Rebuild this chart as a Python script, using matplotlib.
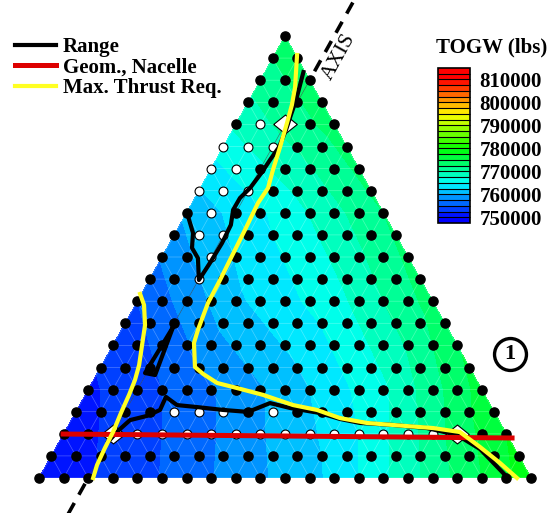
import numpy as np
import matplotlib.pyplot as plt
import matplotlib.tri as mtri
from matplotlib.colors import LinearSegmentedColormap, Normalize
from matplotlib.lines import Line2D

plt.rcParams['font.family'] = ['Liberation Serif', 'DejaVu Serif']
plt.rcParams['font.weight'] = 'bold'

N = 20  # divisions of the design triangle per edge

togw_rows = [
    [750500, 754000, 758500, 763000, 771000, 779000],
    [752000, 756000, 761000, 767000, 776000],
    [755000, 762000, 766500, 773500],
    [760500, 766000, 772500],
    [768000, 773500],
    [774000],
]
togw_levels = np.arange(747500, 815001, 2500)
cbar_ticks = [750000, 760000, 770000, 780000, 790000, 800000, 810000]

# design points (i along row, j = row from bottom)
white_pts = [(1, 16), (0, 15), (1, 15), (2, 15), (0, 14), (1, 14),
             (0, 13), (1, 13), (2, 13), (1, 12), (1, 11), (2, 11),
             (2, 10), (2, 9), (4, 3), (5, 3), (6, 3), (8, 3)] + \
            [(i, 2) for i in range(3, 16)]
diamond_pts = [(2, 2), (2, 16), (16, 2)]
axis_i = 2

# constraint boundaries, grid units (x, y)
range_top = [(10.77, 18.46), (10.61, 17.78), (10.45, 17.10), (10.24, 16.43),
             (10.04, 15.75), (9.76, 14.98), (9.39, 14.39), (9.07, 13.85),
             (8.58, 13.12), (8.17, 12.67), (7.89, 12.13), (7.80, 11.45),
             (7.44, 10.63), (6.95, 9.73), (6.50, 8.96), (6.46, 9.95),
             (6.22, 10.41), (6.26, 11.09), (6.02, 11.99)]
range_mid = [(5.45, 6.83), (4.31, 4.75), (4.72, 4.66), (5.45, 6.83)]
range_bot = [(2.76, 1.58), (3.21, 2.13), (3.70, 2.62), (4.39, 2.81),
             (4.92, 3.08), (5.16, 3.67), (5.61, 3.30), (6.42, 3.21),
             (7.48, 3.08), (8.50, 2.99), (9.39, 3.39), (10.20, 3.17),
             (11.42, 2.94), (12.24, 2.67), (13.05, 2.49), (14.39, 2.40),
             (15.77, 2.26), (16.99, 1.95), (17.93, 1.31), (19.02, 0.05)]
nacelle = [(0.98, 1.99), (10.0, 1.90), (19.23, 1.81)]
thrust_main = [(10.49, 19.14), (10.41, 17.69), (10.28, 16.88), (10.08, 16.06),
               (9.80, 14.98), (9.51, 13.94), (9.31, 13.12), (8.90, 12.44),
               (8.37, 11.22), (7.76, 9.86), (7.36, 8.96), (6.87, 7.92),
               (6.46, 6.70), (6.30, 6.11), (6.34, 5.02), (6.67, 4.71),
               (7.24, 4.30), (8.05, 4.07), (9.11, 3.76), (10.33, 3.30),
               (11.30, 3.08), (12.24, 2.71), (13.33, 2.49), (14.96, 2.35),
               (16.02, 2.26), (17.11, 2.08), (17.93, 1.40), (18.74, 0.68),
               (19.43, 0.0)]
thrust_left = [(4.11, 8.33), (4.27, 7.83), (4.31, 6.92), (4.19, 6.02),
               (4.07, 5.11), (3.90, 4.43), (3.66, 3.76), (3.33, 2.94),
               (3.01, 2.08), (2.68, 1.36), (2.36, 0.59), (2.20, 0.0)]


def lattice(n, step):
    xs, ys, idx = [], [], {}
    for j in range(n + 1):
        for i in range(n + 1 - j):
            idx[i, j] = len(xs)
            xs.append(step * (i + j / 2))
            ys.append(step * j)
    tris = []
    for j in range(n):
        for i in range(n - j):
            tris.append([idx[i, j], idx[i + 1, j], idx[i, j + 1]])
            if i < n - j - 1:
                tris.append([idx[i + 1, j], idx[i + 1, j + 1], idx[i, j + 1]])
    return np.array(xs), np.array(ys), tris, idx


cmap = LinearSegmentedColormap.from_list(
    'rainbow', ['#0000ff', '#00ffff', '#00ff00', '#ffff00', '#ff0000'])
norm = Normalize(750000, 810000)

fig = plt.figure(figsize=(5.48, 5.13), dpi=100)
ax = fig.add_axes([0, 0, 1, 1])
ax.set_xlim(-39 / 24.6, 509 / 24.6)
ax.set_ylim(-35 / 22.1, 478 / 22.1)
ax.axis('off')

# TOGW field
cx, cy, ctri, _ = lattice(len(togw_rows) - 1, N / (len(togw_rows) - 1))
z = np.concatenate([np.array(r, float) for r in togw_rows])
tri = mtri.Triangulation(cx, cy, ctri)
cf = ax.tricontourf(tri, z, levels=togw_levels, cmap=cmap, norm=norm, zorder=1)

# design grid mesh + points
gx, gy, gtri, gidx = lattice(N, 1)
ax.triplot(mtri.Triangulation(gx, gy, gtri), color='white', lw=0.5, alpha=0.3, zorder=2)

black_x, black_y, white_x, white_y = [], [], [], []
for (i, j), k in gidx.items():
    if (i, j) in diamond_pts:
        continue
    if (i, j) in white_pts:
        white_x.append(gx[k]); white_y.append(gy[k])
    else:
        black_x.append(gx[k]); black_y.append(gy[k])
ax.plot(black_x, black_y, 'o', ms=6.6, color='black', clip_on=False, zorder=3)
ax.plot(white_x, white_y, 'o', ms=6.4, mfc='white', mec='black', mew=0.8,
        clip_on=False, zorder=3)
dia = [(-1, 0), (0, 0.8), (1, 0), (0, -0.8), (-1, 0)]
ax.plot([i + j / 2 for i, j in diamond_pts], [j for i, j in diamond_pts],
        linestyle='none', marker=dia, ms=17, mfc='white', mec='black', mew=0.8,
        zorder=4)

# axis
ay = np.array([-2.0, 22.5])
ax.plot(axis_i + ay / 2, ay, color='black', lw=2.6, dashes=(3.5, 2.6), zorder=0)
ax.plot(axis_i + np.array([0, N - axis_i]) / 2, [0, N - axis_i], color='black',
        lw=0.5, alpha=0.5, zorder=2)
ax.text(12.2, 19.05, 'AXIS', rotation=61, ha='center', va='center',
        fontsize=15.5, fontweight='normal')

# constraints
for seg in (range_top, range_mid, range_bot):
    ax.plot(*zip(*seg), color='black', lw=3, zorder=5, solid_capstyle='butt')
ax.plot(*zip(*nacelle), color='#dd0000', lw=3.6, zorder=6)
for seg in (thrust_main, thrust_left):
    ax.plot(*zip(*seg), color='#ffff22', lw=3, zorder=7)

ax.plot([19.15], [5.61], 'o', ms=23, mfc='white', mec='black', mew=2.4, clip_on=False)
ax.text(19.15, 5.61, '1', ha='center', va='center', fontsize=16)

handles = [Line2D([], [], color='black', lw=3),
           Line2D([], [], color='#dd0000', lw=3.6),
           Line2D([], [], color='#ffff22', lw=3)]
ax.legend(handles, ['Range', 'Geom., Nacelle', 'Max. Thrust Req.'],
          loc='upper left', bbox_to_anchor=(15 / 548, 1 - 37 / 513),
          bbox_transform=fig.transFigure, frameon=False, fontsize=15,
          handlelength=1.95, handletextpad=0.35, labelspacing=0.02,
          borderpad=0, borderaxespad=0)

# colorbar
cax = fig.add_axes([438 / 548, 1 - 223 / 513, 32 / 548, 155 / 513])
cb = fig.colorbar(cf, cax=cax, drawedges=True, ticks=cbar_ticks)
cb.ax.tick_params(length=0, labelsize=15, pad=7)
cb.outline.set_linewidth(1.2)
cb.dividers.set_linewidth(0.8)
fig.text(492 / 548, 1 - 47 / 513, 'TOGW (lbs)', ha='center', va='center', fontsize=15)

fig.savefig('out.png', dpi=100)
